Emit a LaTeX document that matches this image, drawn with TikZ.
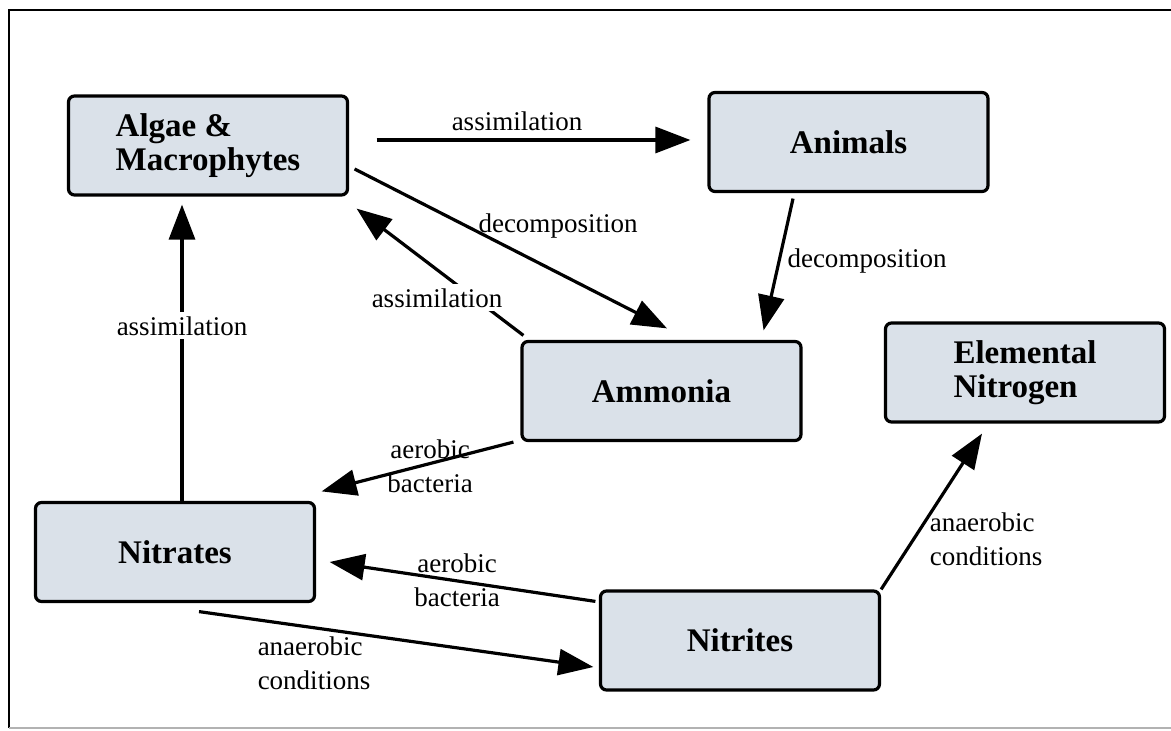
\documentclass[tikz,border=0pt]{standalone}
\usepackage{fontspec}
\setmainfont{Liberation Serif}
\usepackage{xcolor}
\usepackage{tikz}
\usetikzlibrary{arrows.meta, calc}

\definecolor{boxfill}{RGB}{218,225,233}

\begin{document}
\begin{tikzpicture}[
    x=0.5pt, y=-0.5pt,
    >={Triangle[length=17.5pt, width=13pt]},
    box/.style={draw, rounded corners=3pt, fill=boxfill, line width=1.6pt,
                minimum width=139.5pt, minimum height=49.5pt, inner sep=0pt,
                font=\fontsize{16.5}{17}\selectfont\bfseries, align=left},
    lbl/.style={font=\fontsize{13.5}{17}\selectfont, inner sep=1pt, align=left},
    wlbl/.style={lbl, fill=white, inner sep=2pt},
    arr/.style={->, line width=1.6pt},
]
\useasboundingbox (0,0) rectangle (1171,731);

% === Frame ===
\draw[line width=1pt] (1171,10) -- (9,10) -- (9,728);
\draw[line width=1.2pt, gray!60] (9,728) -- (1171,728);

% === Boxes ===
\node[box] (alg) at (208,145.5) {Algae \&\\Macrophytes};
\node[box] (ani) at (848.5,142) {Animals};
\node[box] (amm) at (661.5,391) {Ammonia};
\node[box] (ele) at (1025,372.5) {Elemental\\Nitrogen};
\node[box] (nta) at (175,552) {Nitrates};
\node[box] (nti) at (740,640.5) {Nitrites};

% === Top row ===
\draw[arr] ($(alg.east)+(27.5,-5.5)$) -- ($(ani.west)+(-17,-2)$);
\node[lbl] (lassim1) at (517,121) {assimilation};

\draw[arr] ($(alg.east)+(5.5,23.5)$) -- ($(amm.north)+(5.5,-11.5)$);
\node[lbl] (ldec1) at (558,226) {decomposition};

\draw[arr] ($(ani.south)+(-55.5,5.5)$) -- ($(amm.north east)+(-39,-9.5)$);
\node[lbl] (ldec2) at (867,261) {decomposition};

% === Back to algae ===
\draw[arr] ($(amm.north west)+(3,-4.5)$) -- ($(alg.south east)+(7.5,12)$);
\node[wlbl] (lassim2) at (437,298) {assimilation};

\draw[arr] ($(nta.north)+(7,0)$) -- ($(alg.south)+(-26,8)$);
\node[wlbl] (lassim3) at (182,326) {assimilation};

% === Nitrogen cycle below ===
\draw[arr] ($(amm.south west)+(-7,0)$) -- ($(nta.north east)+(5.5,-9.5)$);
\node[lbl, align=center] (laer1) at (430,466) {aerobic\\bacteria};

\draw[arr] ($(nti.north west)+(-3.5,12)$) -- ($(nta.east)+(13.5,10)$);
\node[lbl, align=center] (laer2) at (457,580) {aerobic\\bacteria};

\draw[arr] ($(nta.south)+(24,8.5)$) -- ($(nti.west)+(-5.5,26.5)$);
\node[lbl] (lana1) at (314,663.5) {anaerobic\\conditions};

\draw[arr] (nti.north east) -- ($(ele.south)+(-43,10)$);
\node[lbl] (lana2) at (986,539.5) {anaerobic\\conditions};

\end{tikzpicture}
\end{document}
